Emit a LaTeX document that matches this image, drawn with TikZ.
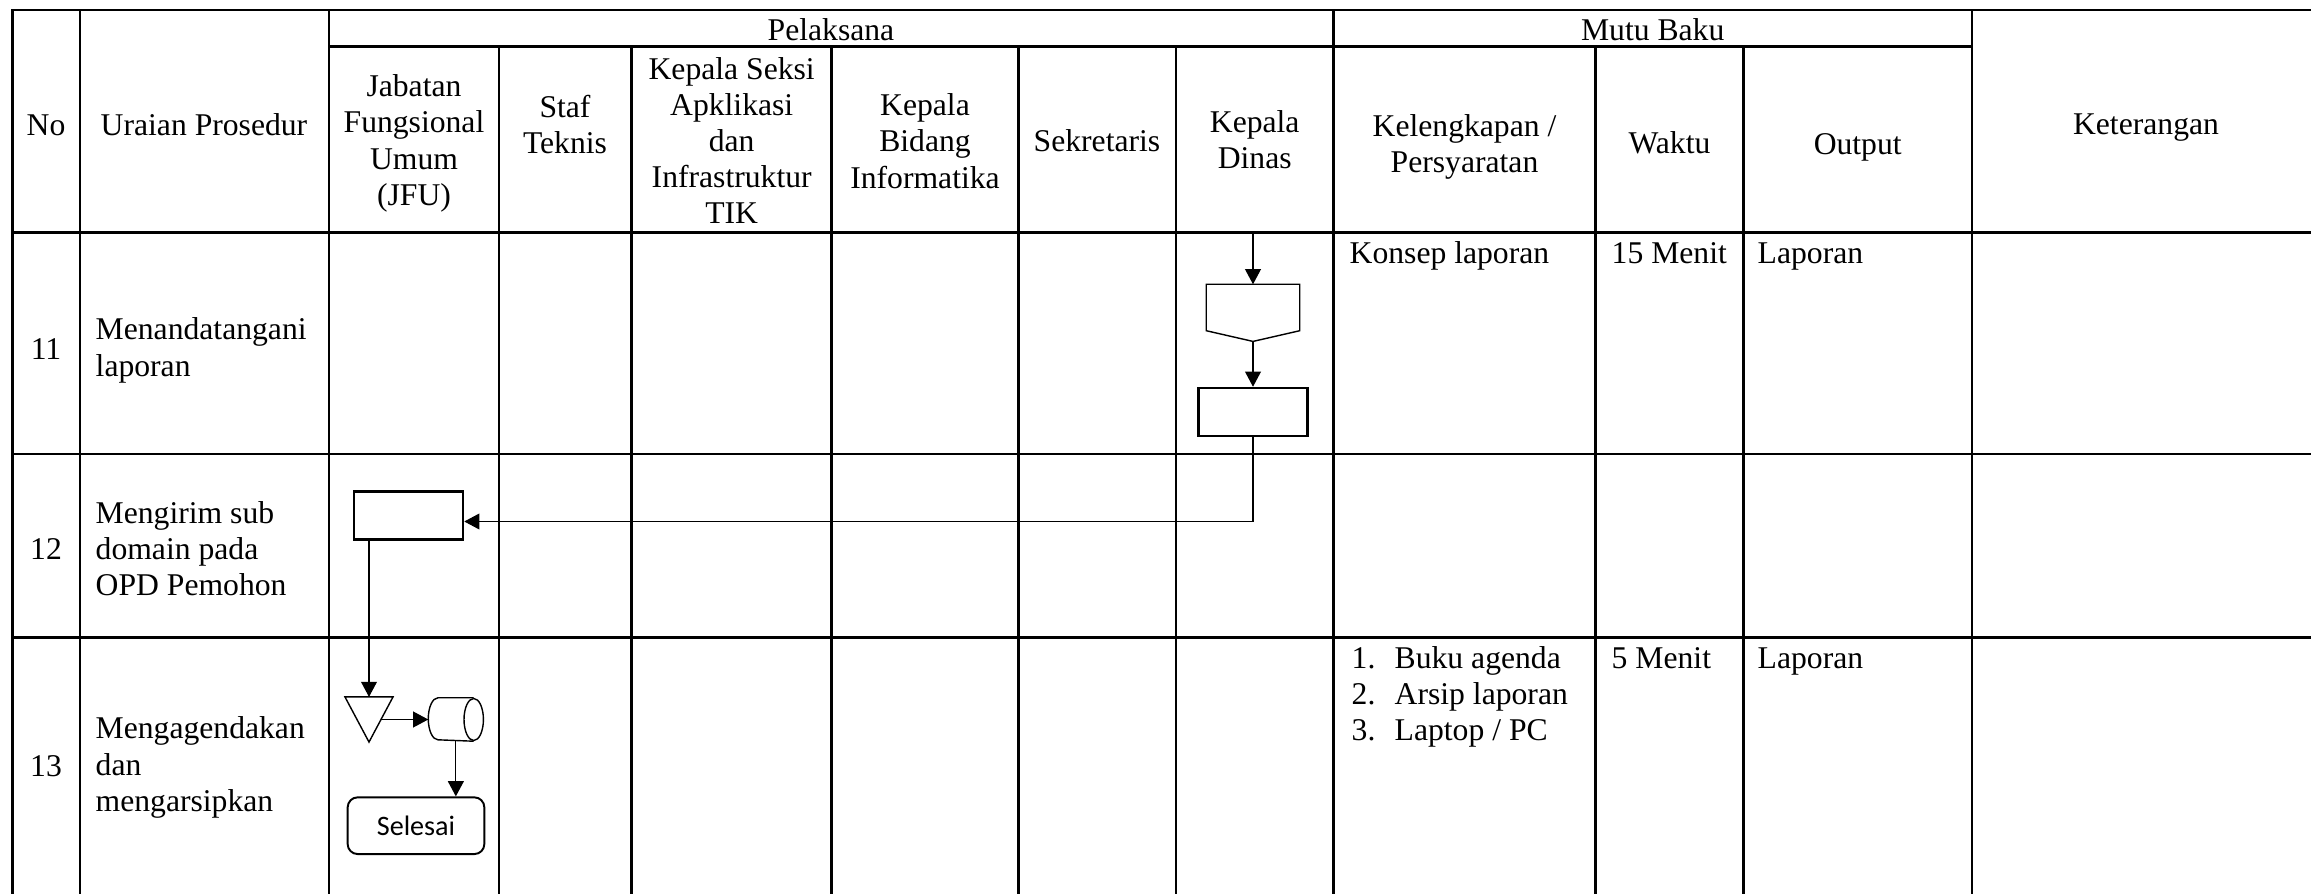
\documentclass[tikz,border=0pt]{standalone}
\usepackage{fontspec}
\setmainfont{Liberation Serif}
\newfontfamily\selesaifont{Carlito}
\usepackage{tikz}
\usetikzlibrary{arrows.meta, positioning, shapes.geometric, calc}

\tikzset{
  gridline/.style={line width=0.7pt},
  flowline/.style={line width=0.35pt, -{Triangle[length=4.3pt,width=4.5pt]}},
  shapeline/.style={line width=0.4pt},
  cellhead/.style={align=center, inner sep=0pt},
  celltext/.style={align=left, inner sep=0pt, anchor=west},
  cellnote/.style={inner sep=0pt, anchor=base west},
  procbox/.style={draw, line width=0.7pt, minimum width=1.09cm, minimum height=0.48cm, inner sep=0pt},
  emptyshape/.style={minimum width=#1, inner sep=0pt},
  endbox/.style={draw, line width=0.55pt, rounded corners=0.1cm, minimum width=1.366cm, minimum height=0.567cm, inner sep=0pt, font=\selesaifont\fontsize{8}{9.6}\selectfont}
}

\begin{document}
\begin{tikzpicture}[x=0.01cm, y=-0.01cm, font=\fontsize{9}{10.3}\selectfont]
  \useasboundingbox (0,0) rectangle (2311,894);
  \clip (0,0) rectangle (2311,894);
  % table frame
  \draw[gridline] (12.3,897) -- (12.3,10) -- (2320,10) -- (2320,897) -- cycle;
  \draw[gridline] (329,46.7) -- (1972,46.7);
  \foreach \y in {232.7,454,637.5}
    \draw[gridline] (12.3,\y) -- (2320,\y);
  \foreach \x in {80,329,1333.3,1972}
    \draw[gridline] (\x,10) -- (\x,897);
  \foreach \x in {499,631.7,831.7,1018.3,1176,1595.7,1743.3}
    \draw[gridline] (\x,46.7) -- (\x,897);

  % header
  \node[cellhead] (hno) at (46,125) {No};
  \node[cellhead] (huraian) at (204,125) {Uraian Prosedur};
  \node[cellhead] (hpelaksana) at (831,30) {Pelaksana};
  \node[cellhead] (hmutu) at (1652.7,30) {Mutu Baku};
  \node[cellhead] (hjfu) at (414,143.4) {Jabatan\\Fungsional\\Umum\\(JFU)};
  \node[cellhead] (hstaf) at (565,124.2) {Staf\\Teknis};
  \node[cellhead] (hkasi) at (731.7,140.5) {Kepala Seksi\\Apklikasi\\dan\\Infrastruktur\\TIK};
  \node[cellhead] (hkabid) at (925,141) {Kepala\\Bidang\\Informatika};
  \node[cellhead] (hsekre) at (1097,141) {Sekretaris};
  \node[cellhead] (hkadis) at (1254.7,139.7) {Kepala\\Dinas};
  \node[cellhead] (hleng) at (1464.5,147) {Kelengkapan /\\Persyaratan};
  \node[cellhead] (hwaktu) at (1669.5,142.7) {Waktu};
  \node[cellhead] (houtput) at (1857.7,147) {Output};
  \node[cellhead] (hket) at (2146,127.3) {Keterangan};

  % row 11
  \node[cellhead] (no11) at (46,349.3) {11};
  \node[celltext] (ur11) at (95,350.3) {Menandatangani\\laporan};
  \node[cellnote] (leng11) at (1349,264) {Konsep laporan};
  \node[cellnote] (wkt11) at (1611,264) {15 Menit};
  \node[cellnote] (out11) at (1757,264) {Laporan};

  % row 12
  \node[cellhead] (no12) at (46,548.8) {12};
  \node[celltext] (ur12) at (95,548.8) {Mengirim sub\\domain pada\\OPD Pemohon};

  % row 13
  \node[cellhead] (no13) at (46,766) {13};
  \node[celltext] (ur13) at (95,767.6) {Mengagendakan\\dan\\mengarsipkan};
  \node[cellnote] (leng13a) at (1351,668.8) {\makebox[0.43cm][l]{1.}Buku agenda};
  \node[cellnote] (leng13b) at (1351,704.6) {\makebox[0.43cm][l]{2.}Arsip laporan};
  \node[cellnote] (leng13c) at (1351,740.4) {\makebox[0.43cm][l]{3.}Laptop / PC};
  \node[cellnote] (wkt13) at (1611,668.8) {5 Menit};
  \node[cellnote] (out13) at (1757,668.8) {Laporan};

  % flow shapes
  \coordinate (kdtop) at (1253,232.7);
  \node[emptyshape=0.92cm, minimum height=0.557cm] (offpage) at (1253,312.85) {};
  \draw[shapeline] (offpage.north west) -- (offpage.north east)
    -- ($(offpage.south east)+(0,-10.7)$) -- (offpage.south)
    -- ($(offpage.south west)+(0,-10.7)$) -- cycle;
  \node[procbox] (ttd) at (1253,412) {};
  \node[procbox] (kirim) at (408.5,515.5) {};
  \node[emptyshape=0.466cm, minimum height=0.437cm] (agenda) at (369,719.5) {};
  \draw[shapeline] (agenda.north west) -- (agenda.north east) -- (agenda.south) -- cycle;
  \node[emptyshape=0.537cm, minimum height=0.42cm] (arsip) at (455.85,719.5) {};
  \draw[shapeline] ($(arsip.north east)+(-9.7,0)$) -- ($(arsip.north west)+(9.7,0)$)
    arc[start angle=90, end angle=270, x radius=0.097cm, y radius=0.21cm]
    -- ($(arsip.south east)+(-9.7,0)$);
  \draw[shapeline] ($(arsip.east)+(-9.7,0)$) ellipse [x radius=0.097cm, y radius=0.21cm];
  \node[endbox] (selesai) at (416,825.7) {Selesai};

  % connectors
  \draw[flowline] (kdtop) -- (offpage.north);
  \draw[flowline] (offpage.south) -- (ttd.north);
  \draw[flowline] (ttd.south) |- ($(kirim.east)+(0,6)$);
  \draw[flowline] (agenda.north |- kirim.south) -- (agenda.north);
  \draw[flowline] ($(agenda.north east)!0.5!(agenda.south)$) -- (arsip.west);
  \draw[flowline] (arsip.south) -- (arsip.south |- selesai.north);
\end{tikzpicture}
\end{document}
